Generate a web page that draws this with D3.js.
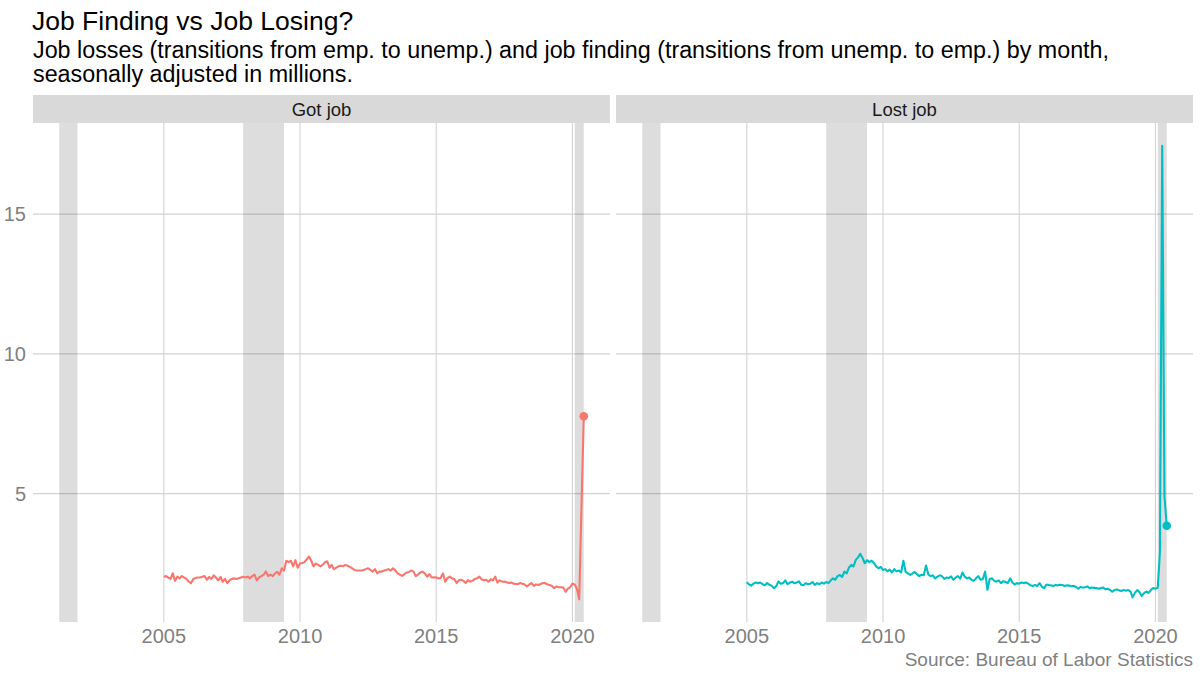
<!DOCTYPE html>
<html>
<head>
<meta charset="utf-8">
<script src="https://cdn.jsdelivr.net/npm/d3@7"></script>
<style>
  body { margin: 0; background: #fff; }
  svg { font-family: "Liberation Sans", Arial, sans-serif; }
</style>
</head>
<body>
<div id="chart"></div>
<script>
// monthly values, Jan 2005 .. Jun 2020, millions
var gotJob = [
  2.03, 2.05, 2.00, 1.95, 2.15, 1.88, 2.03, 1.97, 2.05, 2.00, 1.95, 1.85,
  1.80, 1.95, 1.98, 2.00, 2.00, 2.03, 2.05, 1.92, 2.02, 1.95, 2.08, 2.00,
  1.90, 2.02, 1.85, 1.95, 1.80, 1.90, 1.95, 1.97, 1.95, 1.97, 2.00, 2.03,
  2.00, 2.03, 1.97, 2.05, 2.10, 1.90, 2.00, 2.05, 2.10, 2.22, 2.05, 2.10,
  2.05, 2.15, 2.20, 2.10, 2.33, 2.25, 2.60, 2.55, 2.60, 2.40, 2.62, 2.35,
  2.50, 2.52, 2.55, 2.65, 2.75, 2.60, 2.40, 2.50, 2.45, 2.40, 2.45, 2.55,
  2.58, 2.35, 2.45, 2.30, 2.35, 2.40, 2.42, 2.40, 2.45, 2.42, 2.38, 2.33,
  2.27, 2.25, 2.25, 2.25, 2.27, 2.30, 2.33, 2.27, 2.21, 2.30, 2.15, 2.21,
  2.21, 2.25, 2.27, 2.30, 2.25, 2.33, 2.25, 2.15, 2.10, 2.06, 2.12, 2.18,
  2.20, 2.25, 2.22, 2.05, 2.10, 2.18, 2.21, 2.15, 2.03, 2.12, 2.00, 2.01,
  2.00, 1.97, 1.98, 2.15, 1.85, 1.98, 2.03, 1.97, 1.95, 1.80, 1.90, 1.92,
  1.88, 1.80, 1.91, 1.85, 1.88, 1.95, 1.97, 2.03, 1.94, 1.90, 1.92, 1.85,
  1.94, 1.90, 2.03, 1.82, 1.90, 1.85, 1.86, 1.83, 1.80, 1.82, 1.78, 1.77,
  1.77, 1.80, 1.78, 1.75, 1.68, 1.75, 1.80, 1.70, 1.75, 1.73, 1.77, 1.80,
  1.80, 1.75, 1.73, 1.70, 1.62, 1.68, 1.65, 1.65, 1.64, 1.49, 1.60, 1.65,
  1.78, 1.75, 1.60, 1.22, 4.50, 7.77
];

var lostJob = [
  1.83, 1.75, 1.71, 1.78, 1.82, 1.80, 1.82, 1.76, 1.72, 1.80, 1.74, 1.70,
  1.62, 1.70, 1.86, 1.78, 1.80, 1.90, 1.76, 1.82, 1.85, 1.80, 1.82, 1.86,
  1.74, 1.72, 1.80, 1.76, 1.78, 1.84, 1.74, 1.80, 1.76, 1.82, 1.78, 1.84,
  1.80, 1.90, 1.97, 1.92, 2.05, 2.09, 2.02, 2.21, 2.15, 2.35, 2.45, 2.40,
  2.63, 2.72, 2.85, 2.70, 2.51, 2.62, 2.55, 2.60, 2.52, 2.40, 2.33, 2.38,
  2.27, 2.30, 2.22, 2.28, 2.18, 2.30, 2.22, 2.25, 2.18, 2.60, 2.20, 2.15,
  2.09, 2.15, 2.20, 2.12, 2.05, 2.10, 2.08, 2.43, 2.10, 2.05, 2.08, 1.97,
  2.03, 2.08, 2.05, 1.95, 2.00, 1.98, 2.04, 1.92, 2.00, 2.05, 1.96, 2.18,
  2.03, 1.97, 2.00, 1.92, 1.88, 1.97, 2.05, 1.92, 1.95, 2.21, 1.56, 1.95,
  1.97, 1.88, 1.85, 1.90, 1.80, 1.87, 1.84, 1.80, 1.97, 1.82, 1.75, 1.80,
  1.78, 1.82, 1.80, 1.82, 1.78, 1.72, 1.70, 1.73, 1.70, 1.80, 1.67, 1.62,
  1.75, 1.73, 1.72, 1.70, 1.73, 1.72, 1.74, 1.73, 1.70, 1.72, 1.71, 1.69,
  1.70, 1.66, 1.60, 1.66, 1.64, 1.65, 1.68, 1.62, 1.64, 1.63, 1.62, 1.60,
  1.62, 1.64, 1.58, 1.60, 1.56, 1.49, 1.55, 1.57, 1.54, 1.52, 1.55, 1.53,
  1.55, 1.50, 1.29, 1.45, 1.55, 1.48, 1.34, 1.44, 1.50, 1.45, 1.56, 1.62,
  1.60, 1.63, 2.90, 17.45, 4.90, 3.85
];

var panels = ["Got job", "Lost job"];
var colors = ["#F8766D", "#00BFC4"];
var recessions = [
  ["2001-03-01", "2001-11-01"],
  ["2007-12-01", "2009-06-01"],
  ["2020-02-01", "2020-06-01"]
];
var yTicks = [5, 10, 15];
var xTicks = [2005, 2010, 2015, 2020];

var parse = d3.timeParse("%Y-%m-%d");
var months = d3.timeMonth.range(new Date(2005, 0, 1), new Date(2020, 6, 1));
var series = [gotJob, lostJob].map((vals) =>
  vals.map((v, i) => ({ date: months[i], value: v }))
);

var width = 1200,
  height = 676;

var svg = d3
  .select("#chart")
  .append("svg")
  .attr("width", width)
  .attr("height", height);

svg
  .append("text")
  .attr("x", 32)
  .attr("y", 30)
  .style("font-size", "26.5px")
  .attr("fill", "#000")
  .text("Job Finding vs Job Losing?");

svg
  .append("text")
  .attr("x", 33)
  .attr("y", 58)
  .style("font-size", "23.3px")
  .attr("fill", "#000")
  .text("Job losses (transitions from emp. to unemp.) and job finding (transitions from unemp. to emp.) by month,");

svg
  .append("text")
  .attr("x", 33)
  .attr("y", 82)
  .style("font-size", "23.3px")
  .attr("fill", "#000")
  .text("seasonally adjusted in millions.");

// shared scales (ggplot style 5% expansion)
var xMin = parse(recessions[0][0]),
  xMax = months[months.length - 1];
var xPad = (xMax - xMin) * 0.05;
var allVals = gotJob.concat(lostJob);
var yLo = d3.min(allVals),
  yHi = d3.max(allVals);
var yPad = (yHi - yLo) * 0.05;

var panelTop = 123,
  panelBottom = 622;
var panelX = [33, 616],
  panelW = 577;

var yscale = d3
  .scaleLinear()
  .domain([yLo - yPad, yHi + yPad])
  .range([panelBottom, panelTop]);

// y labels, only on the left
svg
  .selectAll(".ylab")
  .data(yTicks)
  .enter()
  .append("text")
  .attr("class", "ylab")
  .attr("x", 26)
  .attr("y", (d) => yscale(d))
  .attr("dy", "0.36em")
  .attr("text-anchor", "end")
  .style("font-size", "20px")
  .attr("fill", "#7f7f7f")
  .text((d) => d);

panels.forEach((name, p) => {
  var x0 = panelX[p];
  var xscale = d3
    .scaleTime()
    .domain([new Date(+xMin - xPad), new Date(+xMax + xPad)])
    .range([x0, x0 + panelW]);

  var g = svg.append("g");

  // grid
  g.selectAll(".hgrid")
    .data(yTicks)
    .enter()
    .append("line")
    .attr("x1", x0)
    .attr("x2", x0 + panelW)
    .attr("y1", (d) => yscale(d))
    .attr("y2", (d) => yscale(d))
    .attr("stroke", "#d3d3d3")
    .attr("stroke-width", 1.1);

  g.selectAll(".vgrid")
    .data(xTicks)
    .enter()
    .append("line")
    .attr("x1", (d) => xscale(new Date(d, 0, 1)))
    .attr("x2", (d) => xscale(new Date(d, 0, 1)))
    .attr("y1", panelTop)
    .attr("y2", panelBottom)
    .attr("stroke", "#d3d3d3")
    .attr("stroke-width", 1.1);

  // recession bands
  g.selectAll(".rec")
    .data(recessions)
    .enter()
    .append("rect")
    .attr("x", (d) => xscale(parse(d[0])))
    .attr("width", (d) => xscale(parse(d[1])) - xscale(parse(d[0])))
    .attr("y", panelTop)
    .attr("height", panelBottom - panelTop)
    .attr("fill", "#000")
    .attr("fill-opacity", 0.135);

  // strip
  g.append("rect")
    .attr("x", x0)
    .attr("y", 95)
    .attr("width", panelW)
    .attr("height", panelTop - 95)
    .attr("fill", "#d9d9d9");

  g.append("text")
    .attr("x", x0 + panelW / 2)
    .attr("y", 116)
    .attr("text-anchor", "middle")
    .style("font-size", "18.5px")
    .attr("fill", "#1a1a1a")
    .text(name);

  // x labels
  g.selectAll(".xlab")
    .data(xTicks)
    .enter()
    .append("text")
    .attr("x", (d) => xscale(new Date(d, 0, 1)))
    .attr("y", 643)
    .attr("text-anchor", "middle")
    .style("font-size", "20px")
    .attr("fill", "#7f7f7f")
    .text((d) => d);

  var line = d3
    .line()
    .x((d) => xscale(d.date))
    .y((d) => yscale(d.value));

  g.append("path")
    .datum(series[p])
    .attr("d", line)
    .attr("fill", "none")
    .attr("stroke", colors[p])
    .attr("stroke-width", 2.1)
    .attr("stroke-linejoin", "round");

  var last = series[p][series[p].length - 1];
  g.append("circle")
    .attr("cx", xscale(last.date))
    .attr("cy", yscale(last.value))
    .attr("r", 4.3)
    .attr("fill", colors[p]);
});

svg
  .append("text")
  .attr("x", 1193)
  .attr("y", 666)
  .attr("text-anchor", "end")
  .style("font-size", "19px")
  .attr("fill", "#7f7f7f")
  .text("Source: Bureau of Labor Statistics");
</script>
</body>
</html>
